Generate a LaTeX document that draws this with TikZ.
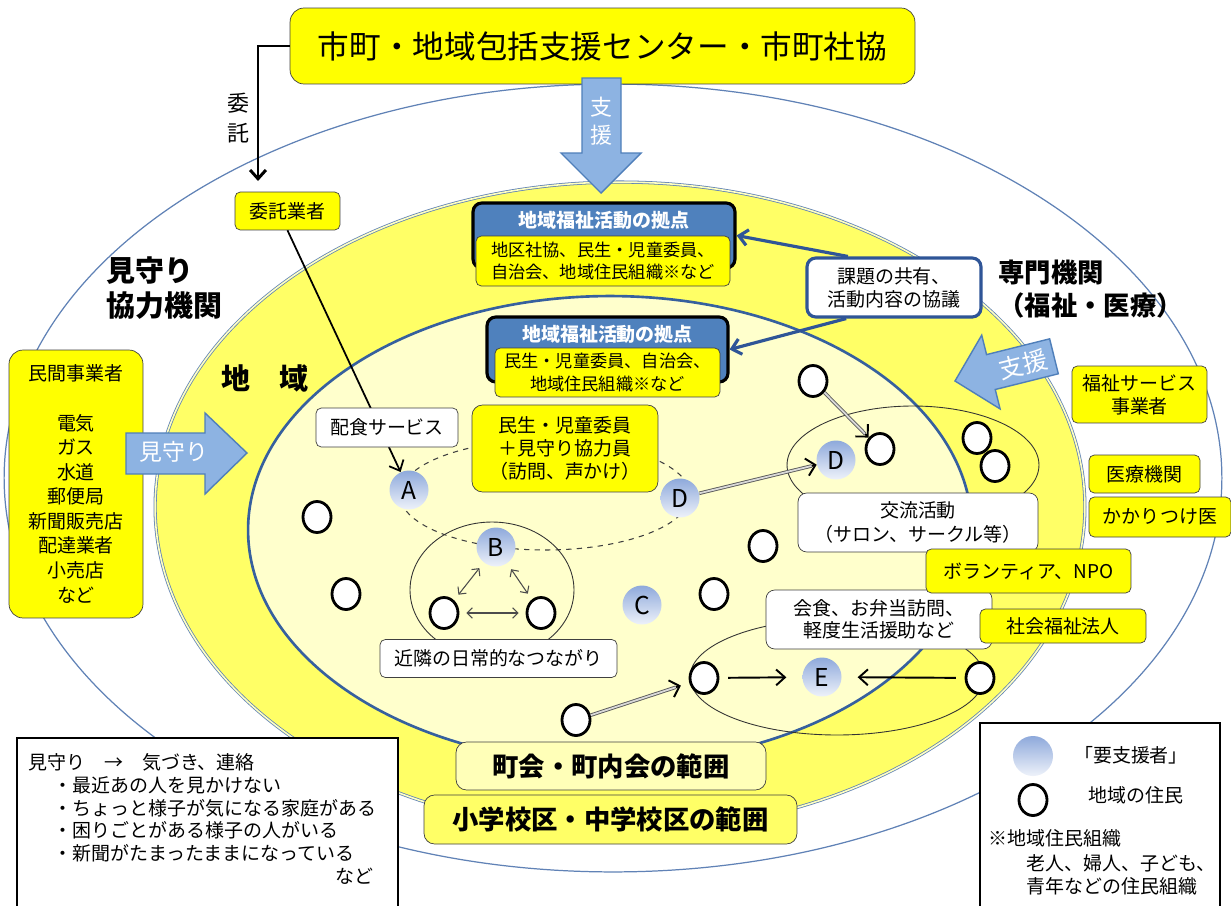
\documentclass[tikz,border=0pt]{standalone}
\usepackage{fontspec}
\setmainfont{Noto Sans CJK JP}
\usetikzlibrary{arrows.meta,shapes.geometric}

\definecolor{boxyellow}{HTML}{FFFF00}
\definecolor{bandyellow}{HTML}{FFFF66}
\definecolor{paleyellow}{HTML}{FFFFCC}
\definecolor{townyellow}{HTML}{FFFFB8}
\definecolor{ringblue}{HTML}{36609E}
\definecolor{outerblue}{HTML}{6082B6}
\definecolor{hdrblue}{HTML}{4F81BD}
\definecolor{arrowfill}{HTML}{8DB3E2}
\definecolor{arrowline}{HTML}{4F7FBA}
\definecolor{needtop}{HTML}{8EA9DB}
\definecolor{needbot}{HTML}{EEF2FA}
\definecolor{boxline}{HTML}{404040}
\definecolor{kadaiblue}{HTML}{2F5597}

\begin{document}
\begin{tikzpicture}[x=0.02cm,y=-0.02cm,
    every node/.style={font=\fontsize{10.8}{13}\selectfont,inner sep=0pt},
    ybox/.style={draw=boxline,fill=boxyellow,rounded corners=3pt,align=center},
    wbox/.style={ybox,fill=white},
    hdr/.style={draw=black,line width=1.8pt,fill=hdrblue,rounded corners=5pt},
    hdrtext/.style={text=white,font=\fontsize{10.8}{13}\selectfont\bfseries},
    basetext/.style={font=\fontsize{9.8}{13}\selectfont},
    bold/.style={font=\fontsize{16.5}{20}\selectfont\bfseries,align=left},
    res/.style={ellipse,draw,line width=1.6pt,fill=white,minimum width=.56cm,minimum height=.62cm},
    need/.style={circle,top color=needtop,bottom color=needbot,minimum size=.78cm,font=\fontsize{14}{14}\selectfont},
    blockarrow/.style={draw=arrowline,fill=arrowfill,line width=.8pt},
    ring/.style={line width=.5pt,draw=black!80},
    kadaiarr/.style={draw=kadaiblue,line width=1.8pt,->},
    dblhead/.style={line width=1.1pt,->,>={Straight Barb[length=5pt,width=10pt]}},
    dblline/.style={draw=black!65,line width=.5pt,double=white!85!black,double distance=1pt,shorten >=3pt},
    twoway/.style={draw=black!70,line width=.6pt,<->,shorten <=4pt,shorten >=4pt,>={Straight Barb[length=3pt,width=6pt]}},
    toe/.style={line width=1.1pt,->,shorten <=5pt,shorten >=9pt},
    >={Straight Barb[length=5pt,width=9pt]}
  ]
  \useasboundingbox (0,0) rectangle (1231,906);

  %areas
  \draw[draw=outerblue,line width=.7pt,fill=white] (613,478) ellipse [x radius=12.18cm,y radius=7.88cm];
  \draw[draw=outerblue,line width=.45pt,double=white!60!bandyellow,double distance=.9pt,fill=bandyellow] (620,507) ellipse [x radius=9.3cm,y radius=6.5cm];
  \draw[draw=ringblue,line width=1.5pt,fill=paleyellow] (610,530) ellipse [x radius=7.24cm,y radius=4.68cm];

  %groups
  \draw[dashed,draw=black!75,line width=.6pt] (545,495) ellipse [x radius=2.9cm,y radius=1.1cm];
  \draw[ring] (492,590) ellipse [x radius=1.64cm,y radius=1.36cm];
  \draw[ring] (913,465) ellipse [x radius=2.52cm,y radius=1.18cm];
  \draw[ring] (837,677) ellipse [x radius=2.94cm,y radius=1.16cm];

  %labels
  \node[bold,anchor=west] (mimamori) at (106,288) {見守り\\協力機関};
  \node[bold,font=\fontsize{15}{19}\selectfont\bfseries,anchor=west] (senmon) at (998,289) {専門機関\\（福祉・医療）};
  \node[bold] (chiiki) at (265,378) {地　域};

  %center and commission
  \node[ybox,rounded corners=8pt,minimum width=12.5cm,minimum height=1.52cm,font=\fontsize{18}{22}\selectfont] (hq) at (602.5,46) {市町・地域包括支援センター・市町社協};
  \node[ybox,minimum width=2.1cm,minimum height=.76cm] (itaku) at (287.5,211) {委託業者};
  \coordinate (itakuend) at (258,181);
  \draw[line width=1.7pt,->] (hq.west) -| (itakuend);
  \node[font=\fontsize{12.5}{17}\selectfont,align=center] (itakulbl) at (238,118) {委\\託};

  \draw[blockarrow] (582,78) -- (621,78) -- (621,153) -- (641,153) -- (601,193) -- (561,153) -- (582,153) -- cycle;
  \node[text=white,font=\fontsize{12.5}{16}\selectfont,align=center] (shien) at (601,121) {支\\援};

  %bases
  \node[hdr,minimum width=5.24cm,minimum height=1.3cm] (base1) at (604,235.5) {};
  \node[hdrtext] (base1t) at (604,220) {地域福祉活動の拠点};
  \node[ybox,basetext,minimum width=5.08cm,minimum height=1cm] (base1b) at (603,261) {地区社協、民生・児童委員、\\自治会、地域住民組織※など};
  \node[hdr,minimum width=4.82cm,minimum height=1.3cm] (base2) at (607.5,349.5) {};
  \node[hdrtext] (base2t) at (607.5,334) {地域福祉活動の拠点};
  \node[ybox,basetext,minimum width=4.5cm,minimum height=.98cm] (base2b) at (607.5,372.5) {民生・児童委員、自治会、\\地域住民組織※など};

  \node[wbox,draw=kadaiblue,line width=1.8pt,rounded corners=5pt,minimum width=3.48cm,minimum height=1.18cm] (kadai) at (894,287.5) {課題の共有、\\活動内容の協議};
  \draw[kadaiarr] (kadai.146) -- (base1.east);
  \draw[kadaiarr] (kadai.213) -- (base2.east);

  %private partners
  \node[ybox,rounded corners=8pt,minimum width=2.68cm,minimum height=5.36cm,font=\fontsize{10.8}{14}\selectfont] (minkan) at (76,484) {民間事業者\\[14pt]電気\\ガス\\水道\\郵便局\\新聞販売店\\配達業者\\小売店\\など};
  \draw[blockarrow] (126,433) -- (205,433) -- (205,413) -- (247,453) -- (205,494) -- (205,474) -- (126,474) -- cycle;
  \node[text=white,font=\fontsize{13}{13}\selectfont] (mimalbl) at (174,452) {見守り};

  \begin{scope}[shift={(955,381)},rotate=14]
    \draw[blockarrow] (0,0) -- (37,-38) -- (37,-18) -- (102,-18) -- (102,18) -- (37,18) -- (37,38) -- cycle;
    \node[transform shape,text=white,font=\fontsize{14}{14}\selectfont] (shien2) at (70,0) {支援};
  \end{scope}

  %people
  \node[need] (A) at (409,490) {A};
  \node[need] (B) at (496,547) {B};
  \node[need] (C) at (642,605) {C};
  \node[need] (D1) at (680,498) {D};
  \node[need] (D2) at (836,460) {D};
  \node[need] (E) at (822,677) {E};

  \node[res] (r1) at (317,517) {};
  \node[res] (r2) at (346,594) {};
  \node[res] (r3) at (444,613) {};
  \node[res] (r4) at (541,613) {};
  \node[res] (r5) at (714,594) {};
  \node[res] (r6) at (763,546) {};
  \node[res] (r7) at (813,381) {};
  \node[res] (r8) at (880,449) {};
  \node[res] (r9) at (977,438) {};
  \node[res] (r10) at (995,466) {};
  \node[res] (r11) at (576,720) {};
  \node[res] (r12) at (704,678) {};
  \node[res] (r13) at (980,678) {};

  %links
  \draw[line width=1pt,->] (itaku.south) -- (A);
  \draw[dblhead] (D1) -- (D2);
  \draw[dblline] (D1) -- (D2);
  \draw[dblhead] (r7) -- (r8);
  \draw[dblline] (r7) -- (r8);
  \draw[dblhead,shorten >=5pt] (r11) -- (r12);
  \draw[dblline,shorten >=8pt] (r11) -- (r12);
  \draw[twoway] (B) -- (r3);
  \draw[twoway] (B) -- (r4);
  \draw[twoway] (r3) -- (r4);
  \draw[toe] (r12) -- (E);
  \draw[toe] (r13) -- (E);

  %activities
  \node[wbox,minimum width=2.84cm,minimum height=.78cm] (haisyoku) at (387,427.5) {配食サービス};
  \node[ybox,rounded corners=6pt,minimum width=3.72cm,minimum height=1.74cm] (minsei) at (565,448.5) {民生・児童委員\\＋見守り協力員\\（訪問、声かけ）};
  \node[wbox,minimum width=4.74cm,minimum height=.76cm] (kinrin) at (498.5,658.5) {近隣の日常的なつながり};
  \node[wbox,rounded corners=5pt,minimum width=4.8cm,minimum height=1.18cm,font=\fontsize{10.8}{13.5}\selectfont] (kouryu) at (918,522.5) {交流活動\\（サロン、サークル等）};
  \node[wbox,rounded corners=5pt,minimum width=4.52cm,minimum height=1.18cm,font=\fontsize{10.8}{12.5}\selectfont] (kaisyoku) at (879,619.5) {会食、お弁当訪問、\\軽度生活援助など};

  %professionals
  \node[ybox,minimum width=2.7cm,minimum height=1.14cm] (fukushi) at (1139.5,394.5) {福祉サービス\\事業者};
  \node[ybox,minimum width=2.22cm,minimum height=.76cm] (iryo) at (1144.5,474) {医療機関};
  \node[ybox,minimum width=2.84cm,minimum height=.8cm] (kakari) at (1160,517) {かかりつけ医};
  \node[ybox,minimum width=4.1cm,minimum height=.88cm] (npo) at (1028.5,571) {ボランティア、NPO};
  \node[ybox,minimum width=3.32cm,minimum height=.68cm] (shakai) at (1063,626) {社会福祉法人};

  %ranges
  \node[ybox,fill=townyellow,rounded corners=6pt,minimum width=6.2cm,minimum height=.96cm,font=\fontsize{15}{15}\selectfont\bfseries] (choukai) at (611,766) {町会・町内会の範囲};
  \node[ybox,fill=bandyellow,rounded corners=6pt,minimum width=7.46cm,minimum height=.98cm,font=\fontsize{15}{15}\selectfont\bfseries] (gakku) at (610.5,819.5) {小学校区・中学校区の範囲};

  %legends
  \node[draw=black,fill=white,line width=.8pt,minimum width=7.62cm,minimum height=3.48cm] (legL) at (207.5,825) {};
  \node[anchor=north west,align=left,text width=6.9cm] (legLtext) at (28,753) {見守り　→　気づき、連絡\\
    \hspace*{1.35em}・最近あの人を見かけない\\
    \hspace*{1.35em}・ちょっと様子が気になる家庭がある\\
    \hspace*{1.35em}・困りごとがある様子の人がいる\\
    \hspace*{1.35em}・新聞がたまったままになっている\\
    \hspace*{\fill}など\hspace*{1.3em}};
  \node[draw=black,fill=white,line width=.8pt,minimum width=4.8cm,minimum height=3.78cm] (legR) at (1100,817.5) {};
  \node[need,minimum size=.8cm] (legneed) at (1033,756) {};
  \node (legneedt) at (1131,755) {「要支援者」};
  \node[res] (legres) at (1033,800) {};
  \node (legrest) at (1136,795) {地域の住民};
  \node[anchor=west] (legorg) at (988,838) {※地域住民組織};
  \node[anchor=west,align=left] (legorgt) at (1026,875) {老人、婦人、子ども、\\青年などの住民組織};
\end{tikzpicture}
\end{document}
